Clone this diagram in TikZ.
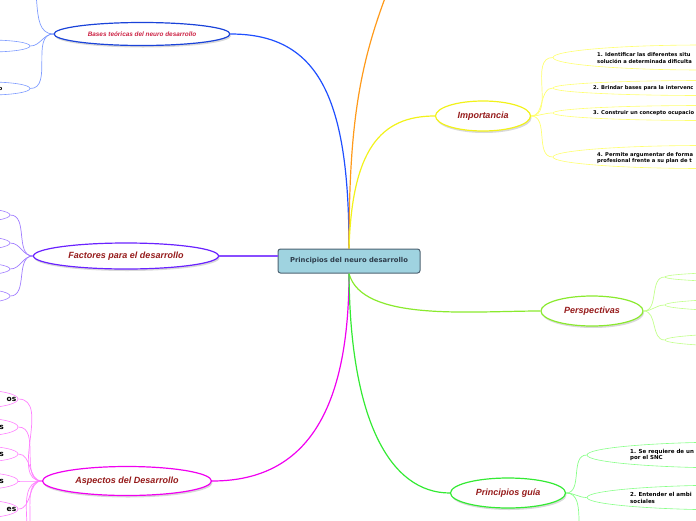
\documentclass[tikz,border=0pt]{standalone}
\usepackage{fontspec}
\setmainfont{Liberation Sans}
\newfontfamily\verdfont{DejaVu Sans}
\usetikzlibrary{shapes.geometric,shadows}

\definecolor{centralfill}{HTML}{9FD3E0}
\definecolor{centralborder}{HTML}{4D6272}
\definecolor{centraltext}{HTML}{2E3D4C}
\definecolor{labelred}{HTML}{961B1B}
\definecolor{basesred}{HTML}{CC2244}
\definecolor{basesblue}{HTML}{1F4FFF}
\definecolor{baseschild}{HTML}{7F9CFF}
\definecolor{branchorange}{HTML}{FF9A1A}
\definecolor{factpurple}{HTML}{6A22FF}
\definecolor{factchild}{HTML}{A07CFF}
\definecolor{aspmagenta}{HTML}{F000F0}
\definecolor{aspchild}{HTML}{FF80FF}
\definecolor{impyellow}{HTML}{F2F21A}
\definecolor{impchild}{HTML}{FFFF70}
\definecolor{perspgreen}{HTML}{8AEA2E}
\definecolor{perspchild}{HTML}{C2FF8A}
\definecolor{guiagreen}{HTML}{33EA33}
\definecolor{guiachild}{HTML}{88FF88}

\begin{document}
\begin{tikzpicture}[x=1pt,y=-1pt,
  central/.style={draw=centralborder, fill=centralfill, rounded corners=2.5pt,
    line width=1pt, minimum width=142pt, minimum height=24pt,
    font=\verdfont\bfseries\fontsize{6.8}{8}\selectfont, text=centraltext},
  mainbub/.style={ellipse, fill=white, line width=1.2pt, inner sep=0pt,
    font=\bfseries\itshape\fontsize{9}{10}\selectfont, text=labelred,
    drop shadow={shadow xshift=1pt, shadow yshift=-2pt, opacity=0.3, fill=gray}},
  childbub/.style={ellipse, line width=0.6pt, inner sep=0pt, minimum width=300pt},
  leftbub/.style={ellipse, line width=0.6pt, inner sep=0pt, minimum width=80pt},
  childtxt/.style={font=\verdfont\bfseries\fontsize{5.2}{6.2}\selectfont,
    align=left, inner sep=0pt},
  link/.style={line width=1.2pt},
  sublink/.style={line width=0.7pt},
]

  % Canvas
  \useasboundingbox (0,0) rectangle (696,520);

  % Parameters
  \def\lend{553}        % left end of Importancia children
  \def\gend{587}        % left end of Principios guia children
  \def\pend{665}        % left end of Perspectivas children

  % Centre
  \node[central] (root) at (349,261) {Principios del neuro desarrollo};

  % Main bubbles
  \node[mainbub, draw=basesblue!85!black, minimum width=176pt, minimum height=23pt,
    font=\bfseries\itshape\fontsize{6.4}{7.4}\selectfont, text=basesred]
    (bases) at (142,34) {Bases teóricas del neuro desarrollo};
  \node[mainbub, draw=factpurple, minimum width=185pt, minimum height=26pt]
    (fact) at (126,256) {Factores para el desarrollo};
  \node[mainbub, draw=aspmagenta, minimum width=169pt, minimum height=29pt]
    (asp) at (127,481) {Aspectos del Desarrollo};
  \node[mainbub, draw=impyellow, minimum width=95pt, minimum height=30pt]
    (imp) at (483,116) {Importancia};
  \node[mainbub, draw=perspgreen, minimum width=102pt, minimum height=30pt]
    (persp) at (592,311) {Perspectivas};
  \node[mainbub, draw=guiagreen, minimum width=115pt, minimum height=30pt]
    (guia) at (508,493) {Principios guía};

  % Main branches
  \draw[link, basesblue] (root.north) .. controls (349,100) and (320,34) .. (bases.east);
  \draw[link, branchorange] (root.north) .. controls (349,120) and (360,60) .. (392,-20);
  \draw[link, impyellow] (root.north) .. controls (352,150) and (380,116) .. (imp.west);
  \draw[link, factpurple!80] ([yshift=5pt]root.west) -- (fact.east);
  \draw[link, aspmagenta] (root.south) .. controls (349,420) and (300,481) .. (asp.east);
  \draw[link, perspgreen] (root.south) .. controls (362,322) and (470,311) .. (persp.west);
  \draw[link, guiagreen] (root.south) .. controls (350,420) and (390,493) .. (guia.west);

  % Bases children
  \node[leftbub, draw=baseschild, minimum height=12pt] (bas1) at (-10,46) {};
  \node[leftbub, draw=baseschild, minimum height=13pt] (bas2) at (-10,88.5) {};
  \node[childtxt, font=\verdfont\bfseries\fontsize{5.5}{6.5}\selectfont, anchor=east]
    (bas2t) at (2.5,89) {o};
  \coordinate (bas0) at (20,-30);
  \foreach \c in {bas0,bas1.east,bas2.east}
    \draw[sublink, baseschild] (bases.west) to[out=180,in=0] (\c);

  % Factores children
  \foreach \i/\y/\h in {1/215/14, 2/243/14, 3/269/13, 4/296/15}{
    \node[leftbub, draw=factchild, minimum height=\h pt] (fact\i) at (-30,\y) {};
    \draw[sublink, factchild] (fact.west) to[out=180,in=0] (fact\i.east);
  }

  % Aspectos children
  \foreach \i/\y/\h/\t/\x in {1/399/18/os/16.5, 2/427/18/s/4, 3/454/16/s/4,
                              4/481/17/s/4, 5/509/18/es/16.5}{
    \node[leftbub, draw=aspchild, minimum height=\h pt] (asp\i) at (-22,\y) {};
    \node[childtxt, font=\verdfont\bfseries\fontsize{7.5}{8.5}\selectfont, anchor=east]
      (asp\i t) at (\x,\y) {\t};
    \draw[sublink, aspchild] (asp.west) to[out=180,in=0] (asp\i.east);
  }
  \coordinate (asp6) at (18,540);
  \coordinate (asp7) at (12,565);
  \draw[sublink, aspchild] (asp.west) to[out=180,in=0] (asp6);
  \draw[sublink, aspchild] (asp.west) to[out=180,in=0] (asp7);

  % Importancia children
  \node[childbub, draw=impchild, minimum height=25pt] (imp1) at (\lend+150,57.5) {};
  \node[childbub, draw=impchild, minimum height=15pt] (imp2) at (\lend+150,88) {};
  \node[childbub, draw=impchild, minimum height=15pt] (imp3) at (\lend+150,113) {};
  \node[childbub, draw=impchild, minimum height=23pt] (imp4) at (\lend+150,157) {};
  \foreach \i in {1,...,4}
    \draw[sublink, impchild] (imp.east) to[out=0,in=180] (imp\i.west);
  \node[childtxt, anchor=west] (imp1t) at (597,58)
    {1. Identificar las diferentes situ\\solución a determinada dificulta};
  \node[childtxt, anchor=west] (imp2t) at (593,88) {2. Brindar bases para la intervenc};
  \node[childtxt, anchor=west] (imp3t) at (593,113) {3. Construir un concepto ocupacio};
  \node[childtxt, anchor=west] (imp4t) at (597,158)
    {4. Permite argumentar de forma\\profesional frente a su plan de t};

  % Perspectivas children
  \foreach \i/\y/\h in {1/277/12, 2/305/15, 3/340/16}{
    \node[childbub, draw=perspchild, minimum height=\h pt] (persp\i) at (\pend+150,\y) {};
    \draw[sublink, perspchild] (persp.east) to[out=0,in=180] (persp\i.west);
  }

  % Principios guia children
  \node[childbub, draw=guiachild, minimum height=26pt] (guia1) at (\gend+150,455) {};
  \node[childbub, draw=guiachild, minimum height=25pt] (guia2) at (\gend+150,497.5) {};
  \coordinate (guia3) at (592,550);
  \foreach \c in {guia1.west,guia2.west,guia3}
    \draw[sublink, guiachild] (guia.east) to[out=0,in=180] (\c);
  \node[childtxt, font=\verdfont\bfseries\fontsize{5.5}{6.8}\selectfont, anchor=west]
    (guia1t) at (630,455) {1. Se requiere de un\\por el SNC};
  \node[childtxt, font=\verdfont\bfseries\fontsize{5.5}{6.8}\selectfont, anchor=west]
    (guia2t) at (630,498) {2. Entender el ambi\\sociales};

\end{tikzpicture}
\end{document}
